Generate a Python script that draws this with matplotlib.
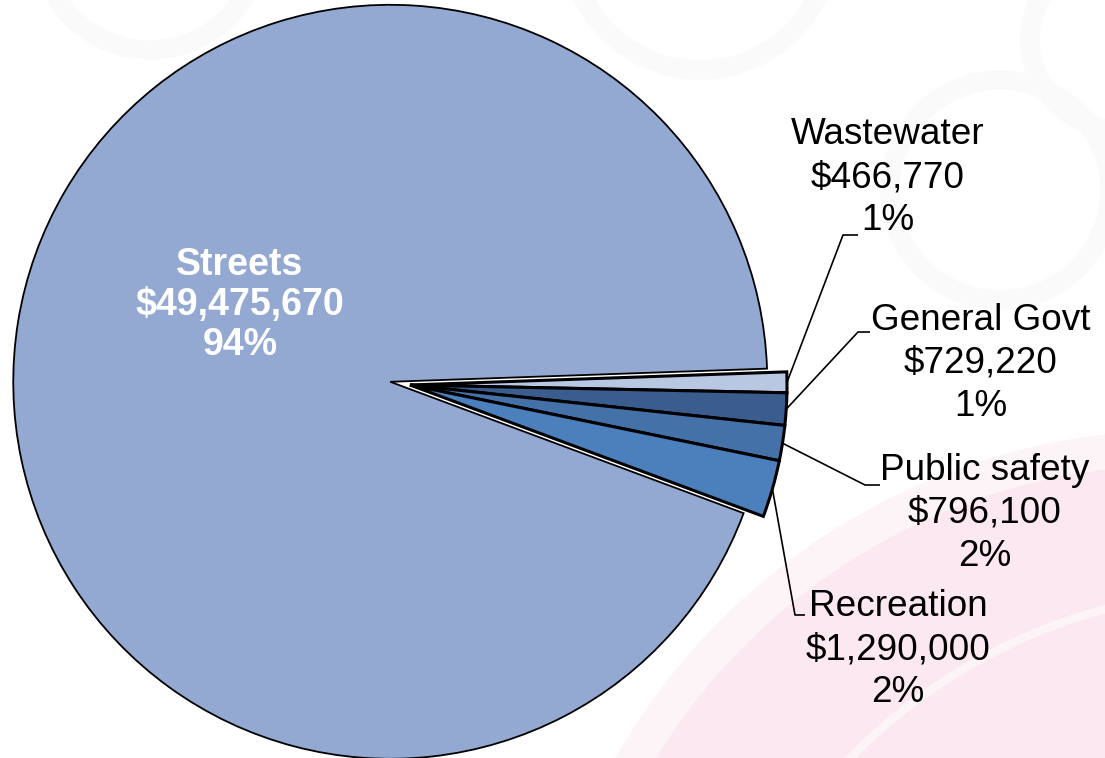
import matplotlib
matplotlib.use("Agg")
import matplotlib.pyplot as plt
from matplotlib.patches import Circle
import numpy as np

# ---- data ----
categories = ["Wastewater", "General Govt", "Public safety", "Recreation", "Streets"]
amounts = [466770, 729220, 796100, 1290000, 49475670]
pct_labels = ["1%", "1%", "2%", "2%", "94%"]
colors = ["#B9C8E2", "#3A5C8E", "#4471A7", "#4B80BD", "#94A9D1"]

W, H = 1105, 758
fig = plt.figure(figsize=(W / 100, H / 100), dpi=100)
ax = fig.add_axes([0, 0, 1, 1])

def P(px, py):
    return px, H - py

# pie
center = P(410, 385)
radius = 377
explode = [0, 0, 0, 0, 20]
wedges, _ = ax.pie(amounts, colors=colors, startangle=2, counterclock=False,
                   explode=explode, center=center, radius=radius,
                   wedgeprops=dict(edgecolor="black", linewidth=2.2))
for w in wedges:
    w.set_zorder(2)
wedges[4].set_linewidth(1.3)

ax.set_xlim(0, W)
ax.set_ylim(0, H)
ax.set_aspect("equal")
ax.axis("off")

# faint background decoration
ax.add_patch(Circle(P(1180, 1080), 650, facecolor="#FDF4F8", edgecolor="none", zorder=0))
ax.add_patch(Circle(P(1180, 1080), 615, facecolor="#FBE8F0", edgecolor="none", zorder=0))
ax.add_patch(Circle(P(1250, 1150), 560, facecolor="none", edgecolor="#FDF4F8", lw=6, zorder=0))
for (cx, cy, r) in [(700, -60, 130), (1000, 190, 110), (1120, 40, 90), (150, -60, 110)]:
    ax.add_patch(Circle(P(cx, cy), r, facecolor="none", edgecolor="#FAFAFA", lw=14, zorder=0))

font = "Liberation Sans"

# Streets label (inside)
streets_lines = [categories[4], "${:,}".format(amounts[4]), pct_labels[4]]
for i, t in enumerate(streets_lines):
    ax.text(*P(240, 265 + 40 * i), t, color="white", fontsize=27, fontweight="bold",
            family=font, ha="center", va="center", zorder=5)

# outside labels with leader lines
label_pos = [(888, 135), (981, 320), (985, 470), (898, 607)]
elbows = [((843, 235), (858, 235)), ((858, 332), (870, 332)),
          ((865, 485), (880, 485)), ((795, 615), (805, 615))]
for k in range(4):
    w = wedges[k]
    thm = np.deg2rad(0.5 * (w.theta1 + w.theta2))
    sx = w.center[0] + w.r * np.cos(thm)
    sy = w.center[1] + w.r * np.sin(thm)
    (ex, ey), (fx, fy) = elbows[k]
    ax.plot([sx, P(ex, ey)[0], P(fx, fy)[0]], [sy, P(ex, ey)[1], P(fx, fy)[1]],
            color="black", lw=1.2, zorder=3, solid_capstyle="butt")
    lines = [categories[k], "${:,}".format(amounts[k]), pct_labels[k]]
    lx, ly = label_pos[k]
    for i, t in enumerate(lines):
        ax.text(*P(lx, ly + 43 * i), t, color="black", fontsize=26.6,
                family=font, ha="center", va="center", zorder=5)

fig.savefig("out.png", dpi=100)
